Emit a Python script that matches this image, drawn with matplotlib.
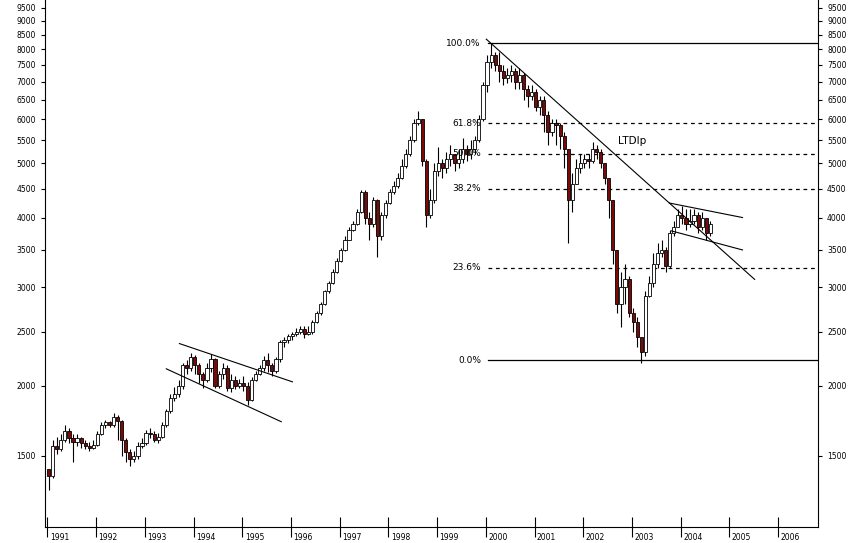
import numpy as np
import matplotlib.pyplot as plt
import matplotlib.transforms as mtransforms

# Monthly closes / highs / lows, Jan 1991 .. Aug 2004
closes = [1380,1560,1540,1600,1660,1610,1590,1610,1580,1560,1550,1570,
          1640,1700,1720,1700,1760,1730,1600,1520,1480,1500,1560,1580,
          1650,1640,1600,1620,1700,1800,1900,1930,2000,2180,2150,2250,
          2180,2100,2050,2150,2230,2000,2100,2150,1980,2050,2000,2020,
          2000,1890,2050,2100,2150,2220,2180,2130,2230,2400,2420,2460,
          2480,2500,2530,2480,2500,2600,2700,2800,2950,3050,3200,3350,
          3500,3650,3800,3900,4100,4450,4000,3900,4300,3700,4050,4250,
          4450,4550,4700,4950,5200,5500,5900,6000,5050,4050,4300,4850,
          5000,4900,5100,5200,5000,5100,5300,5200,5300,5500,6000,6900,
          7600,7800,7500,7300,7100,7200,7300,7000,7200,6800,6600,6700,
          6300,6500,6100,5700,5900,5850,5600,5300,4300,4600,4900,5000,
          5100,5050,5300,5250,5000,4700,4300,3500,2800,3000,3100,2700,
          2600,2450,2300,2900,3050,3300,3450,3500,3280,3750,3850,4050,
          4000,3900,3950,4050,3850,4000,3750,3900]
highs = [1420,1600,1620,1640,1700,1680,1640,1640,1620,1600,1590,1600,
         1660,1720,1740,1730,1790,1770,1740,1610,1540,1530,1590,1610,
         1670,1680,1660,1650,1720,1820,1930,1990,2050,2200,2220,2290,
         2270,2200,2120,2200,2280,2240,2130,2200,2180,2100,2080,2060,
         2080,2030,2070,2130,2180,2260,2290,2200,2250,2420,2450,2480,
         2500,2540,2560,2560,2560,2620,2720,2830,2970,3080,3230,3380,
         3530,3700,3850,3950,4150,4480,4480,4100,4350,4320,4100,4300,
         4500,4650,4800,5100,5300,5600,6000,6200,6000,5100,4500,5000,
         5350,5100,5250,5400,5200,5300,5550,5400,5500,5600,6100,7000,
         7800,8200,7900,7900,7500,7400,7500,7400,7400,7250,6900,6900,
         6800,6600,6600,6200,6000,6000,5900,5700,5300,4800,5100,5200,
         5200,5200,5450,5400,5300,5000,4700,4300,3500,3200,3300,3150,
         2750,2650,2450,2950,3150,3450,3600,3650,3550,3800,3950,4150,
         4200,4150,4150,4150,4100,4100,4000,3950]
lows = [1300,1370,1510,1530,1590,1580,1460,1560,1550,1540,1530,1540,
        1560,1630,1680,1690,1690,1600,1500,1460,1440,1460,1480,1550,
        1570,1610,1590,1580,1610,1690,1790,1880,1910,1970,2100,2130,
        2100,2020,1980,2030,2120,1980,1980,2060,1960,1950,1970,1980,
        1960,1850,1880,2040,2090,2130,2120,2080,2110,2210,2350,2390,
        2420,2460,2480,2440,2470,2480,2590,2680,2790,2930,3040,3180,
        3330,3480,3640,3780,3880,4080,3900,3650,3850,3400,3650,4000,
        4230,4400,4520,4680,4900,5150,5450,5850,4950,3850,4000,4250,
        4750,4700,4800,4950,4850,4900,5000,5050,5100,5200,5450,5950,
        6700,7400,7300,7000,6900,6950,7000,6800,6800,6500,6300,6500,
        6200,6100,5700,5400,5600,5400,5300,4900,3600,4100,4600,4800,
        4900,4900,5000,5100,4900,4600,4000,3300,2700,2550,2800,2650,
        2500,2350,2200,2260,2880,3000,3250,3400,3200,3250,3700,3850,
        3900,3800,3850,3900,3750,3800,3650,3700]
first_open = 1420

# Fibonacci retracement levels (value, label)
fib_values = [8200, 5900, 5200, 4500, 3250, 2220]
fib_labels = ['100.0%', '61.8%', '50.0%', '38.2%', '23.6%', '0.0%']

# Trend lines (year, value) pairs
trend_lines = [
    ([2000.01, 2005.52], [8340, 3100]),
    ([1993.71, 1996.03], [2380, 2033]),
    ([1993.44, 1995.80], [2145, 1725]),
    ([2003.77, 2005.27], [4246, 4000]),
    ([2003.81, 2005.27], [3786, 3500]),
]

years = list(range(1991, 2007))
yticks = list(range(1500, 10000, 500))

n = len(closes)
t = 1991 + (np.arange(n) + 0.3) / 12
opens = [first_open] + closes[:-1]

fig = plt.figure(figsize=(8.64, 5.43), dpi=100)
ax = fig.add_axes([45 / 864, 16 / 543, 773 / 864, 527 / 543])
ax.set_yscale('log')
ax.set_xlim(1990.95, 2006.82)
ax.set_ylim(1118, 9800)

w = 0.065
for x, o, h, l, c in zip(t, opens, highs, lows, closes):
    ax.vlines(x, l, h, color='black', lw=0.8, zorder=2)
    col = 'white' if c >= o else '#7a0a0a'
    ax.bar(x, abs(c - o) if c != o else 5, bottom=min(o, c), width=w,
           color=col, edgecolor='black', lw=0.6, zorder=3)

for v, lab in zip(fib_values, fib_labels):
    ls = '-' if lab in ('100.0%', '0.0%') else (0, (3, 3))
    ax.plot([2000.05, 2006.82], [v, v], color='black', lw=0.9, ls=ls, zorder=1)
    ax.text(1999.9, v, lab, ha='right', va='center', fontsize=6.5, zorder=4)

for xs, ys in trend_lines:
    ax.plot(xs, ys, color='black', lw=0.8, zorder=4)

ax.text(2003.0, 5480, 'LTDIp', fontsize=7.5, ha='center', va='center')

ax.spines['top'].set_visible(False)
ax.yaxis.set_ticks_position('both')
ax.set_yticks(yticks)
ax.set_yticklabels([str(v) for v in yticks])
ax.yaxis.set_minor_locator(plt.NullLocator())
ax.tick_params(axis='y', labelsize=5.5, length=3, labelright=True, direction='out')
ax.set_xticks(years)
ax.set_xticklabels([])
ax.tick_params(axis='x', length=14, direction='inout')
trans = mtransforms.blended_transform_factory(ax.transData, ax.transAxes)
for yr in years:
    ax.text(yr + 0.05, -0.012, str(yr), transform=trans, ha='left', va='top', fontsize=5.5)

fig.savefig('out.png', dpi=100)
